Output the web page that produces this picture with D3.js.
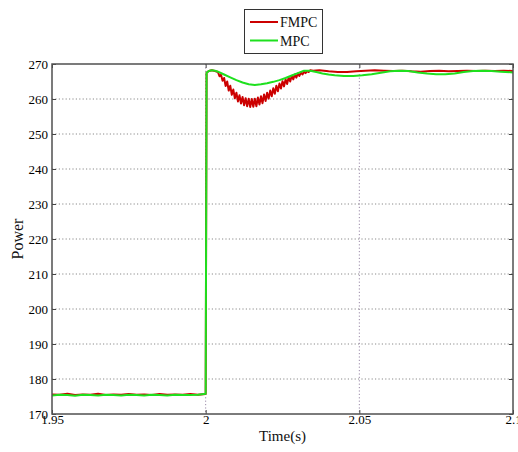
<!DOCTYPE html>
<html>
<head>
<meta charset="utf-8">
<script src="https://cdn.jsdelivr.net/npm/d3@7"></script>
<style>
  html, body { margin: 0; padding: 0; background: #fff; }
  svg { display: block; }
</style>
</head>
<body>
<script>
// ---------- data ----------
const seriesNames = ["FMPC", "MPC"];
const xTicks = [1.95, 2.0, 2.05, 2.1];
const xTickLabels = ["1.95", "2", "2.05", "2.1"];
const yTicks = [170, 180, 190, 200, 210, 220, 230, 240, 250, 260, 270];
const yTickLabels = ["170", "180", "190", "200", "210", "220", "230", "240", "250", "260", "270"];

// FMPC (red)
const fmpcTime = [
  1.95, 1.9525, 1.955, 1.9575, 1.96, 1.9625, 1.965, 1.9675, 1.97, 1.9725, 1.975,
  1.9775, 1.98, 1.9825, 1.985, 1.9875, 1.99, 1.9925, 1.995, 1.9975, 2.0,
  2.0003, 2.001, 2.002, 2.003,
  2.004, 2.0045, 2.005, 2.0055, 2.006, 2.0065, 2.007, 2.0075, 2.008, 2.0085,
  2.009, 2.0095, 2.010, 2.0105, 2.011, 2.0115, 2.012, 2.0125, 2.013, 2.0135,
  2.014, 2.0145, 2.015, 2.0155, 2.016, 2.0165, 2.017, 2.0175, 2.018, 2.0185,
  2.019, 2.0195, 2.020, 2.0205, 2.021, 2.0215, 2.022, 2.0225, 2.023, 2.0235,
  2.024, 2.0245, 2.025, 2.0255, 2.026, 2.0265, 2.027, 2.0275, 2.028, 2.0285,
  2.029, 2.0295, 2.030, 2.0305, 2.031, 2.0315, 2.032, 2.0325, 2.033, 2.0335,
  2.034, 2.035, 2.037, 2.040, 2.043, 2.046, 2.049, 2.052, 2.055, 2.058, 2.061,
  2.064, 2.067, 2.070, 2.073, 2.076, 2.079, 2.082, 2.085, 2.088, 2.091, 2.094,
  2.097, 2.100
];
const fmpcPower = [
  175.6, 175.5, 175.8, 175.4, 175.6, 175.5, 175.8, 175.4, 175.6, 175.5, 175.7,
  175.5, 175.6, 175.4, 175.7, 175.5, 175.6, 175.5, 175.7, 175.5, 175.7,
  267.5, 268.0, 268.2, 268.0,
  267.7, 266.5, 266.9, 265.2, 266.0, 263.7, 265.0, 262.4, 263.8, 261.2,
  262.7, 260.2, 261.8, 259.3, 261.1, 258.7, 260.6, 258.2, 260.2, 257.9,
  260.1, 257.7, 260.0, 257.8, 260.1, 257.9, 260.4, 258.4, 260.8, 258.8,
  261.3, 259.4, 261.8, 260.1, 262.4, 260.8, 263.1, 261.5, 263.8, 262.2,
  264.4, 263.0, 265.1, 263.6, 265.6, 264.3, 266.2, 265.0, 266.6, 265.6,
  267.0, 266.1, 267.3, 266.6, 267.6, 267.0, 267.8, 267.4, 268.0, 267.7,
  268.2, 268.1, 268.2, 267.9, 267.7, 267.7, 267.9, 268.1, 268.2, 268.1, 268.0,
  268.1, 267.9, 267.8, 268.0, 268.1, 267.9, 268.0, 268.1, 268.0, 268.1, 268.0,
  268.1, 268.0
];

// MPC (green)
const mpcTime = [
  1.95, 1.9525, 1.955, 1.9575, 1.96, 1.9625, 1.965, 1.9675, 1.97, 1.9725, 1.975,
  1.9775, 1.98, 1.9825, 1.985, 1.9875, 1.99, 1.9925, 1.995, 1.9975, 2.0,
  2.0003, 2.001, 2.002, 2.003, 2.004, 2.006, 2.008, 2.010, 2.012, 2.014, 2.016,
  2.018, 2.020, 2.022, 2.024, 2.026, 2.028, 2.030, 2.032, 2.034, 2.036, 2.038,
  2.040, 2.042, 2.045, 2.048, 2.051, 2.054, 2.057, 2.060, 2.063, 2.066, 2.069,
  2.072, 2.075, 2.078, 2.081, 2.084, 2.087, 2.090, 2.093, 2.096, 2.100
];
const mpcPower = [
  175.3, 175.5, 175.4, 175.2, 175.5, 175.4, 175.3, 175.5, 175.4, 175.3, 175.5,
  175.4, 175.3, 175.5, 175.4, 175.3, 175.5, 175.4, 175.4, 175.5, 175.8,
  267.5, 268.0, 268.2, 268.1, 267.8, 267.0, 266.2, 265.4, 264.7, 264.2, 264.0,
  264.2, 264.5, 264.9, 265.4, 266.0, 266.7, 267.4, 268.1, 268.1, 267.7, 267.3,
  267.0, 266.8, 266.6, 266.6, 266.8, 267.1, 267.5, 267.9, 268.1, 268.0, 267.6,
  267.3, 267.1, 267.1, 267.3, 267.7, 268.0, 268.1, 268.0, 267.8, 267.6
];

const colors = { FMPC: "#cc0000", MPC: "#1ee01e" };

// ---------- layout ----------
const W = 518, H = 452;
const margin = { left: 52, right: 5, top: 64, bottom: 38 };
const x0 = margin.left, x1 = W - margin.right, y0 = margin.top, y1 = H - margin.bottom;

const svg = d3.select("body").append("svg").attr("width", W).attr("height", H)
  .style("font-family", "'Liberation Serif', 'Times New Roman', serif");

const x = d3.scaleLinear().domain([1.95, 2.1]).range([x0, x1]);
const y = d3.scaleLinear().domain([170, 270]).range([y1, y0]);

// grid
const gridColor = "#8a8a8a";
svg.append("g")
  .selectAll("line.gy")
  .data(yTicks.slice(1, -1))
  .join("line")
  .attr("x1", x0).attr("x2", x1)
  .attr("y1", d => y(d)).attr("y2", d => y(d))
  .attr("stroke", gridColor).attr("stroke-width", 1)
  .attr("stroke-dasharray", "1.2,2.2");
svg.append("g")
  .selectAll("line.gx")
  .data(xTicks.slice(1, -1))
  .join("line")
  .attr("x1", d => x(d)).attr("x2", d => x(d))
  .attr("y1", y0).attr("y2", y1)
  .attr("stroke", "#9a8aa8").attr("stroke-width", 1)
  .attr("stroke-dasharray", "1.2,2.2");

// lines
const line = d3.line().x(d => x(d[0])).y(d => y(d[1]));
const fmpcData = fmpcTime.map((t, i) => [t, fmpcPower[i]]);
const mpcData = mpcTime.map((t, i) => [t, mpcPower[i]]);

svg.append("clipPath").attr("id", "clip")
  .append("rect").attr("x", x0).attr("y", y0 - 2).attr("width", x1 - x0).attr("height", y1 - y0 + 2);

const plot = svg.append("g").attr("clip-path", "url(#clip)");
plot.append("path").datum(fmpcData).attr("d", line)
  .attr("fill", "none").attr("stroke", colors.FMPC).attr("stroke-width", 2)
  .attr("stroke-linejoin", "round");
plot.append("path").datum(mpcData).attr("d", line)
  .attr("fill", "none").attr("stroke", colors.MPC).attr("stroke-width", 2)
  .attr("stroke-linejoin", "round");

// axes
const axisColor = "#444";
const fontSize = 13;
const yAxis = d3.axisLeft(y).tickValues(yTicks)
  .tickFormat((d, i) => yTickLabels[i]).tickSizeInner(-4).tickSizeOuter(0).tickPadding(4);
const gy = svg.append("g").attr("transform", `translate(${x0},0)`).call(yAxis);
gy.select(".domain").remove();
gy.selectAll("line").attr("stroke", axisColor);
gy.selectAll("text").attr("font-size", fontSize).attr("fill", "#000")
  .attr("font-family", "'Liberation Serif', serif");

const xAxis = d3.axisBottom(x).tickValues(xTicks)
  .tickFormat((d, i) => xTickLabels[i]).tickSizeInner(-4).tickSizeOuter(0).tickPadding(2);
const gx = svg.append("g").attr("transform", `translate(0,${y1})`).call(xAxis);
gx.select(".domain").remove();
gx.selectAll("line").attr("stroke", axisColor);
gx.selectAll("text").attr("font-size", fontSize).attr("fill", "#000")
  .attr("font-family", "'Liberation Serif', serif").attr("dy", "0.62em");

const gyr = svg.append("g").attr("transform", `translate(${x1},0)`)
  .call(d3.axisRight(y).tickValues(yTicks).tickFormat("").tickSizeInner(-4).tickSizeOuter(0));
gyr.select(".domain").remove();
gyr.selectAll("line").attr("stroke", axisColor);
const gxt = svg.append("g").attr("transform", `translate(0,${y0})`)
  .call(d3.axisTop(x).tickValues(xTicks).tickFormat("").tickSizeInner(-4).tickSizeOuter(0));
gxt.select(".domain").remove();
gxt.selectAll("line").attr("stroke", axisColor);

// frame
svg.append("rect").attr("x", x0).attr("y", y0).attr("width", x1 - x0).attr("height", y1 - y0)
  .attr("fill", "none").attr("stroke", "#505050").attr("stroke-width", 1.5);

// axis titles
svg.append("text").attr("x", (x0 + x1) / 2).attr("y", 441)
  .attr("text-anchor", "middle").attr("font-size", 15).attr("fill", "#111")
  .text("Time(s)");
svg.append("text").attr("transform", `translate(23,${(y0 + y1) / 2}) rotate(-90)`)
  .attr("text-anchor", "middle").attr("font-size", 16).attr("fill", "#111")
  .text("Power");

// legend
const lg = svg.append("g");
lg.append("rect").attr("x", 244.5).attr("y", 9.5).attr("width", 78).attr("height", 44)
  .attr("fill", "#fff").attr("stroke", "#333").attr("stroke-width", 1);
seriesNames.forEach((name, i) => {
  const ly = 22 + i * 18.5;
  lg.append("line").attr("x1", 250).attr("x2", 278).attr("y1", ly).attr("y2", ly)
    .attr("stroke", colors[name]).attr("stroke-width", 2);
  lg.append("text").attr("x", 280).attr("y", ly + 5).attr("font-size", 14)
    .attr("fill", "#111").text(name);
});
</script>
</body>
</html>
